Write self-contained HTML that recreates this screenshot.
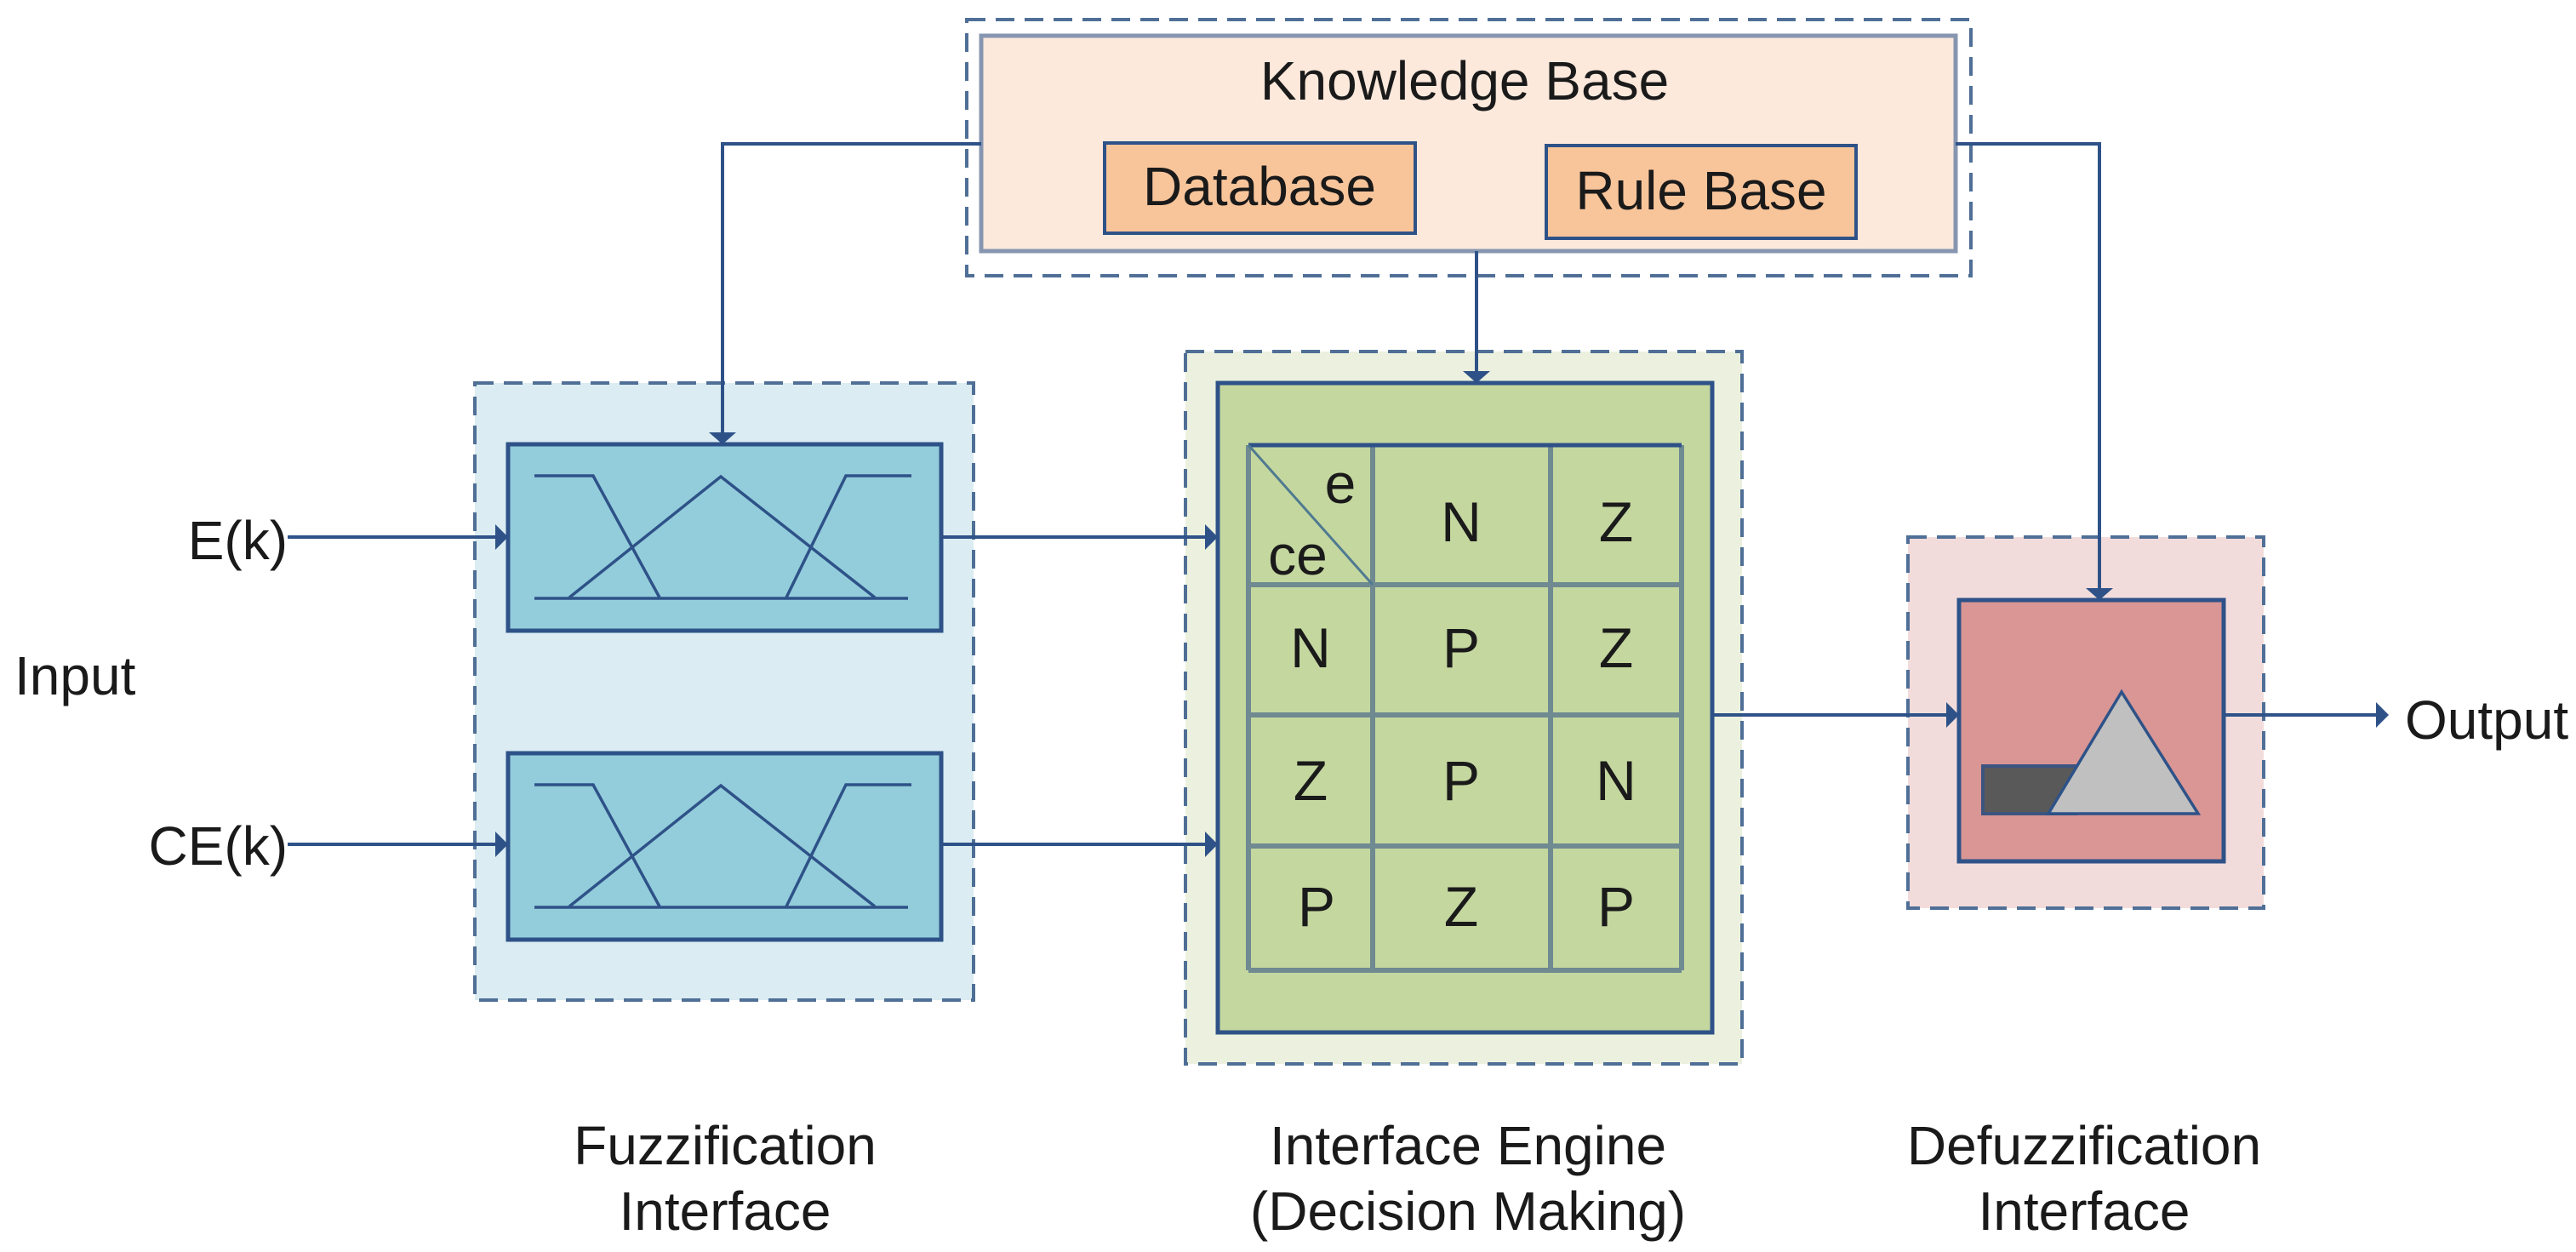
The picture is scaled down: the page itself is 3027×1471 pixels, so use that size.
<!DOCTYPE html>
<html><head><meta charset="utf-8"><style>
html,body{margin:0;padding:0;background:#fff;}
svg{display:block;}
text{font-family:"Liberation Sans",sans-serif;fill:#1a1a1a;}
</style></head><body>
<svg width="3027" height="1471" viewBox="0 0 3027 1471" xmlns="http://www.w3.org/2000/svg">
<!-- Knowledge base -->
<rect x="1136" y="23" width="1180" height="301" fill="#fff" stroke="#4f6f96" stroke-width="4" stroke-dasharray="22,12"/>
<rect x="1153" y="42" width="1145" height="253" fill="#fce9dc" stroke="#8796b0" stroke-width="5"/>
<text x="1721" y="117" font-size="64" text-anchor="middle">Knowledge Base</text>
<rect x="1298" y="168" width="365" height="106" fill="#f8c49a" stroke="#2e5288" stroke-width="4"/>
<text x="1480" y="241" font-size="64" text-anchor="middle">Database</text>
<rect x="1817" y="171" width="364" height="109" fill="#f8c49a" stroke="#2e5288" stroke-width="4"/>
<text x="1999" y="246" font-size="64" text-anchor="middle">Rule Base</text>

<!-- Fuzzification -->
<rect x="558" y="450" width="586" height="725" fill="#dbecf2" stroke="#4f6f96" stroke-width="4" stroke-dasharray="22,12"/>
<rect x="597" y="522" width="509" height="219" fill="#93cddb" stroke="#2e5288" stroke-width="5"/>
<rect x="597" y="885" width="509" height="219" fill="#93cddb" stroke="#2e5288" stroke-width="5"/>
<g fill="none" stroke="#2e5288" stroke-width="3.5">
<polyline points="628,559 697,559 775,702"/>
<polyline points="669,702 847,560 1028,702"/>
<polyline points="924,702 994,559 1071,559"/>
<line x1="628" y1="703" x2="1067" y2="703"/>
<g transform="translate(0,363)">
<polyline points="628,559 697,559 775,702"/>
<polyline points="669,702 847,560 1028,702"/>
<polyline points="924,702 994,559 1071,559"/>
<line x1="628" y1="703" x2="1067" y2="703"/>
</g>
</g>

<!-- Engine -->
<rect x="1393" y="413" width="654" height="837" fill="#ebf1de" stroke="#4f6f96" stroke-width="4" stroke-dasharray="22,12"/>
<rect x="1431" y="450" width="581" height="763" fill="#c4d79f" stroke="#2e5288" stroke-width="5"/>
<g stroke="#6f8a90" stroke-width="6" fill="none">
<line x1="1467" y1="523" x2="1467" y2="1140"/>
<line x1="1613" y1="523" x2="1613" y2="1140"/>
<line x1="1822" y1="523" x2="1822" y2="1140"/>
<line x1="1976" y1="523" x2="1976" y2="1140"/>
<line x1="1467" y1="687" x2="1976" y2="687"/>
<line x1="1467" y1="840" x2="1976" y2="840"/>
<line x1="1467" y1="994" x2="1976" y2="994"/>
<line x1="1467" y1="1140" x2="1976" y2="1140"/>
</g>
<line x1="1467" y1="523" x2="1976" y2="523" stroke="#2e5288" stroke-width="5"/>
<line x1="1467" y1="523" x2="1613" y2="687" stroke="#4f7a90" stroke-width="3"/>
<g font-size="66" text-anchor="middle">
<text x="1575" y="591">e</text>
<text x="1525" y="675">ce</text>
<text x="1717" y="636">N</text><text x="1899" y="636">Z</text>
<text x="1540" y="784">N</text><text x="1717" y="784">P</text><text x="1899" y="784">Z</text>
<text x="1540" y="940">Z</text><text x="1717" y="940">P</text><text x="1899" y="940">N</text>
<text x="1547" y="1088">P</text><text x="1717" y="1088">Z</text><text x="1899" y="1088">P</text>
</g>

<!-- Defuzz -->
<rect x="2242" y="631" width="418" height="436" fill="#f2dcdb" stroke="#4f6f96" stroke-width="4" stroke-dasharray="22,12"/>
<rect x="2302" y="705" width="311" height="307" fill="#d99694" stroke="#2e5288" stroke-width="5"/>
<rect x="2330" y="900" width="110" height="56" fill="#595959" stroke="#3c5480" stroke-width="4"/>
<polygon points="2493,813 2407,956 2583,956" fill="#c0c0c0" stroke="#2e5288" stroke-width="3.5"/>

<!-- connectors -->
<g stroke="#2e5288" stroke-width="4" fill="none">
<polyline points="1153,169 849,169 849,510"/>
<line x1="1735" y1="295" x2="1735" y2="438"/>
<polyline points="2298,169 2467,169 2467,693"/>
<line x1="338" y1="631" x2="584" y2="631"/>
<line x1="338" y1="992" x2="584" y2="992"/>
<line x1="1106" y1="631" x2="1418" y2="631"/>
<line x1="1106" y1="992" x2="1418" y2="992"/>
<line x1="2012" y1="840" x2="2289" y2="840"/>
<line x1="2613" y1="840" x2="2792" y2="840"/>
</g>
<g fill="#2e5288">
<polygon points="833,508 865,508 849,522"/>
<polygon points="1719,436 1751,436 1735,450"/>
<polygon points="2451,691 2483,691 2467,705"/>
<polygon points="582,616 582,646 597,631"/>
<polygon points="582,977 582,1007 597,992"/>
<polygon points="1416,616 1416,646 1431,631"/>
<polygon points="1416,977 1416,1007 1431,992"/>
<polygon points="2287,825 2287,855 2302,840"/>
<polygon points="2792,825 2792,855 2807,840"/>
</g>

<!-- labels -->
<g font-size="64">
<text x="338" y="657" text-anchor="end">E(k)</text>
<text x="338" y="1016" text-anchor="end">CE(k)</text>
<text x="17" y="816">Input</text>
<text x="2826" y="868">Output</text>
<text x="852" y="1368" text-anchor="middle">Fuzzification</text>
<text x="852" y="1445" text-anchor="middle">Interface</text>
<text x="1725" y="1368" text-anchor="middle">Interface Engine</text>
<text x="1725" y="1445" text-anchor="middle">(Decision Making)</text>
<text x="2449" y="1368" text-anchor="middle">Defuzzification</text>
<text x="2449" y="1445" text-anchor="middle">Interface</text>
</g>
</svg>
</body></html>
